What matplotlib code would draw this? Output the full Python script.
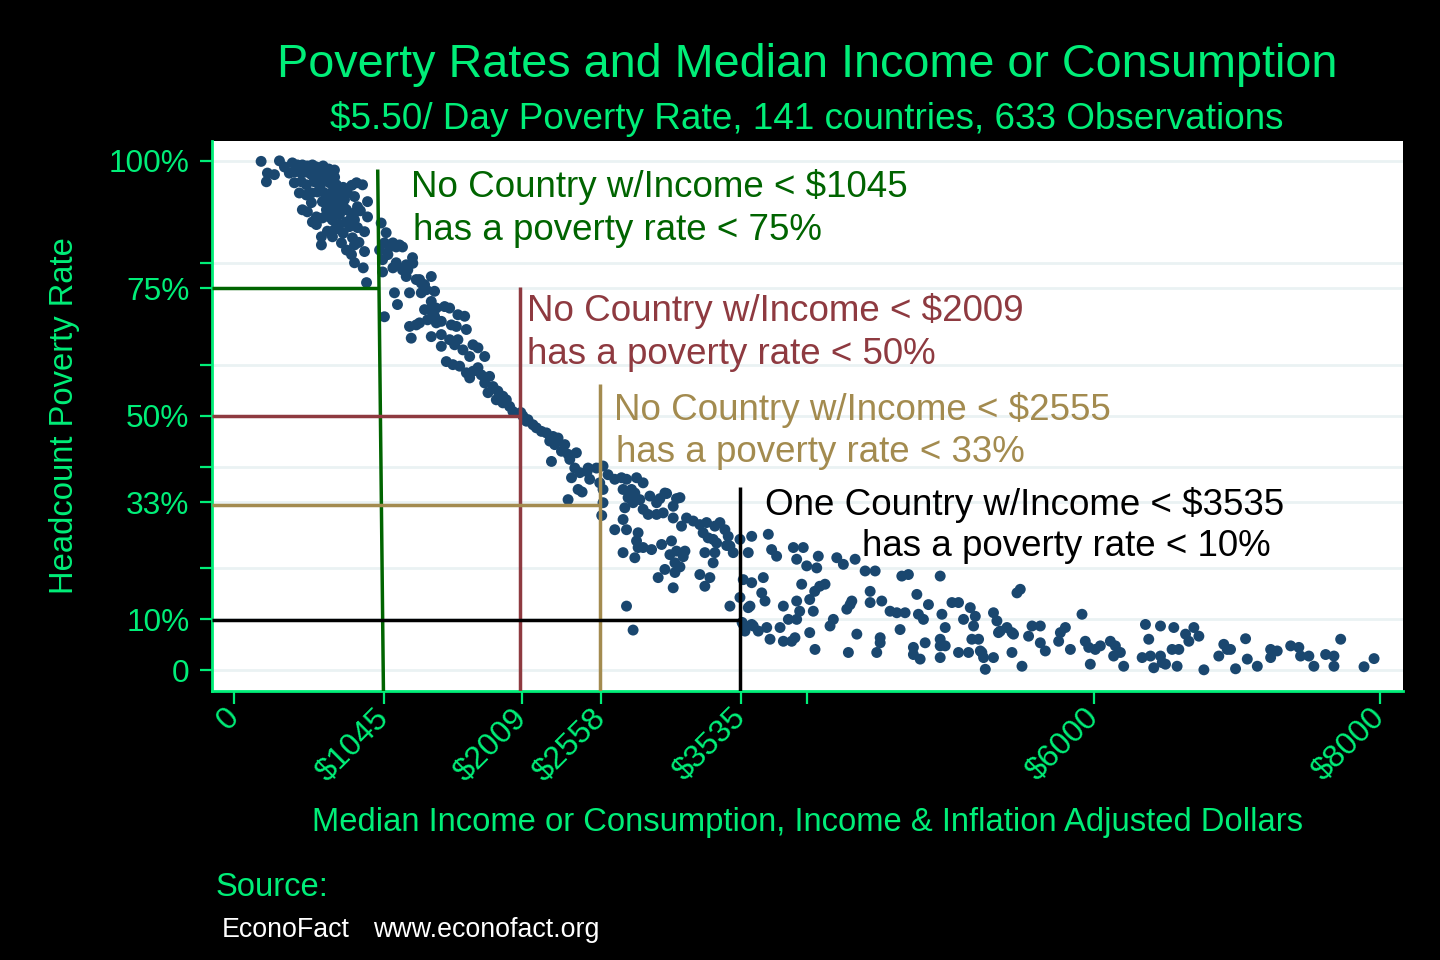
import matplotlib
matplotlib.use("Agg")
import matplotlib.pyplot as plt
import numpy as np

plt.rcParams['font.family'] = ['Liberation Sans', 'DejaVu Sans']

# ---------------- data (income $, poverty rate %) ----------------
obs_low = [
    (187, 99.9), (315, 100.0), (231, 97.6), (280, 97.3), (224, 95.9), (350, 98.8),
    (405, 99.6), (440, 99.2), (475, 99.2), (510, 99.0), (545, 99.2), (573, 98.8), (620, 99.0), (660, 98.4),
    (384, 97.6), (419, 97.8), (468, 97.6), (503, 97.8), (538, 97.3), (594, 97.6), (643, 97.8), (699, 98.2),
    (650, 96.7), (560, 96.5), (700, 96.8),
    (419, 95.7), (468, 95.9), (503, 95.3), (559, 95.9), (608, 95.7), (664, 95.7), (713, 95.3), (853, 95.7),
    (895, 95.3), (734, 93.7), (790, 93.7), (760, 94.8), (820, 95.2), (600, 94.5), (690, 94.2),
    (454, 93.7), (503, 93.3), (538, 93.7), (580, 93.9), (629, 93.7), (678, 92.9), (615, 92.0), (664, 91.8),
    (713, 92.0), (769, 92.4), (839, 93.0), (860, 91.0), (930, 92.0),
    (538, 91.8), (475, 90.4), (510, 90.0), (643, 90.4), (685, 90.0), (734, 89.4), (783, 90.4), (818, 89.0),
    (839, 89.8), (930, 89.0), (573, 89.0), (615, 88.8), (664, 89.0), (720, 90.8), (760, 91.2), (880, 90.2),
    (545, 88.0), (573, 87.5), (685, 88.4), (734, 87.5), (783, 88.0), (839, 88.4), (860, 86.9), (909, 86.1),
    (804, 87.1), (650, 86.2), (700, 86.5), (760, 85.8), (870, 84.0), (900, 79.0),
    (608, 85.1), (608, 83.5), (685, 85.1), (748, 83.9), (783, 82.5), (825, 84.9), (839, 83.5), (909, 82.2),
    (818, 81.6), (839, 80.0), (923, 76.1),
]

obs_lower_mid = [
    (1025, 87.8), (1060, 85.9), (1014, 82.5), (1035, 80.6), (1035, 78.2), (1083, 83.1), (1130, 83.1),
    (1174, 83.1), (1130, 80.0), (1200, 79.6), (1244, 81.0), (1174, 78.6), (1200, 77.3), (1118, 74.1),
    (1139, 71.8), (1048, 69.4), (1223, 74.1), (1293, 76.7), (1328, 75.7), (1375, 77.3), (1305, 74.1),
    (1340, 74.7), (1328, 70.8), (1375, 72.4), (1384, 70.2), (1223, 67.5), (1293, 68.2), (1349, 68.8),
    (1410, 68.2), (1048, 83.9), (1107, 83.9), (1153, 83.5), (1072, 81.6), (1107, 79.0), (1211, 78.6),
    (1246, 79.9), (1270, 76.7), (1305, 76.0), (1398, 74.4), (1363, 70.8), (1410, 71.1), (1468, 71.4),
    (1503, 71.1), (1561, 69.8), (1608, 69.5), (1398, 69.5), (1445, 68.5), (1270, 67.8), (1235, 65.2),
    (1375, 65.5), (1445, 65.9), (1515, 67.8), (1550, 67.5), (1620, 66.9), (1561, 64.9), (1503, 64.9),
    (1445, 63.6), (1538, 63.9), (1596, 62.9), (1666, 63.9), (1701, 63.3), (1643, 61.6), (1748, 61.6),
    (1480, 60.6), (1526, 60.0), (1573, 59.7), (1620, 58.4), (1666, 58.7), (1701, 59.4), (1643, 57.4),
    (1724, 58.0), (1748, 56.4), (1782, 57.7), (1806, 55.7), (1840, 54.8), (1771, 54.5), (1829, 53.1),
    (1875, 53.8), (1875, 52.5), (1922, 51.8), (1945, 50.8), (2015, 49.9), (2039, 48.9), (2085, 48.2),
    (2109, 47.6), (1899, 53.1), (2000, 50.6), (2050, 49.2),
]

obs_mid = [
    (2144, 46.9), (2179, 46.6), (2225, 45.9), (2260, 45.6), (2202, 45.0), (2237, 44.3), (2307, 44.3),
    (2284, 43.0), (2330, 42.4), (2388, 42.7), (2214, 41.0), (2342, 41.4), (2377, 39.7), (2354, 37.8),
    (2412, 38.8), (2470, 39.7), (2481, 37.5), (2400, 35.5), (2330, 33.5), (2528, 39.7), (2574, 40.1),
    (2609, 38.4), (2551, 36.8), (2574, 35.5), (2574, 32.9), (2565, 30.4), (2463, 39.0), (2428, 35.0),
    (2656, 37.5), (2703, 37.8), (2738, 37.5), (2808, 37.8), (2854, 36.8), (2714, 35.5), (2773, 35.5),
    (2796, 34.8), (2749, 33.9), (2784, 32.9), (2831, 33.5), (2901, 34.2), (2948, 32.9), (3006, 34.8),
    (3064, 32.2), (3111, 33.9), (2726, 31.9), (2854, 31.6), (2889, 30.6), (2948, 30.6), (2994, 30.9),
    (3064, 29.9), (3157, 29.9), (3204, 29.3), (3250, 28.6), (3297, 29.0), (3355, 28.3), (3390, 29.0),
    (3425, 27.6), (3448, 26.3), (3273, 27.0), (3308, 26.0), (3367, 25.0), (3460, 24.4), (3285, 23.1),
    (3355, 23.1), (3483, 23.1), (3343, 21.1), (2656, 27.6), (2738, 27.6), (2714, 29.6), (2819, 27.0),
    (2808, 25.4), (2819, 24.1), (2854, 24.1), (2913, 23.7), (2983, 24.7), (3052, 25.4), (3087, 23.4),
    (3146, 23.4), (3041, 22.7), (3076, 21.1), (3006, 19.8), (3076, 19.2), (2959, 18.2), (3064, 16.2),
    (3122, 28.3), (3250, 18.8), (3320, 18.2), (3285, 16.5), (2738, 12.6), (2784, 7.9), (3460, 12.6),
    (3530, 14.3), (3545, 9.4), (3623, 8.7), (3553, 17.8), (3612, 17.2), (3588, 12.3), (3588, 23.1),
    (3612, 26.3), (3530, 25.7), (2714, 23.1), (2796, 22.1), (2971, 33.7), (3018, 34.7), (3087, 33.7),
    (3343, 25.7), (3437, 24.5), (3111, 20.3), (3134, 22.3),
]

obs_upper_mid = [
    (3728, 26.7), (3751, 23.7), (3786, 22.4), (3903, 24.1), (3972, 24.1), (3926, 21.8), (3996, 20.5),
    (4066, 20.1), (4077, 22.4), (4206, 22.1), (4252, 20.8), (4334, 21.8), (4404, 19.5), (4474, 19.5),
    (4660, 18.5), (4706, 18.8), (4928, 18.5), (3693, 18.2), (3682, 15.2), (3705, 13.6), (3600, 12.6),
    (3833, 12.6), (3926, 13.6), (4017, 13.9), (4042, 11.6), (3947, 11.6), (3926, 10.0), (3868, 10.0),
    (4087, 16.5), (4124, 16.9), (4052, 15.5), (3961, 16.9), (4439, 15.5), (4439, 13.3), (4520, 13.6),
    (4765, 14.9), (4846, 12.9), (5010, 13.3), (5056, 13.3), (5138, 12.3), (4299, 12.9), (4311, 13.6),
    (4276, 12.0), (4578, 11.6), (4625, 11.3), (4683, 11.3), (4776, 11.0), (4811, 10.0), (4940, 11.0),
    (5173, 10.6), (4182, 10.0), (4159, 8.7), (4648, 8.0), (4963, 8.4), (5091, 10.0), (5161, 8.7),
    (3553, 9.0), (3565, 7.7), (3612, 9.0), (3658, 7.7), (3717, 8.4), (3740, 6.1), (3810, 8.4), (3833, 5.7),
    (3891, 5.7), (3914, 6.4), (4017, 7.4), (4054, 4.1), (4287, 3.5), (4346, 7.1), (4509, 6.4), (4509, 5.4),
    (4485, 3.5), (4741, 4.5), (4741, 3.1), (4788, 2.2), (4823, 5.4), (4928, 4.8), (4963, 4.8), (4928, 2.5),
    (5056, 3.5), (5126, 3.5), (5149, 6.1), (5196, 6.1), (5208, 3.8), (5231, 2.5), (5243, 0.2), (5300, 2.5),
    (5300, 11.3), (5324, 9.7), (5335, 7.4), (4928, 6.1),
]

obs_high = [
    (5464, 15.2), (5487, 15.9), (5347, 7.7), (5394, 8.4), (5429, 7.4), (5440, 7.1), (5219, 3.5),
    (5429, 3.5), (5499, 0.8), (5545, 6.7), (5569, 8.7), (5627, 8.7), (5627, 5.4), (5662, 3.8), (5767, 7.4),
    (5802, 8.4), (5755, 5.7), (5837, 4.1), (5918, 11.0), (5941, 5.7), (5965, 4.5), (6011, 4.1), (5976, 1.2),
    (6046, 4.8), (6116, 5.7), (6151, 4.8), (6186, 3.5), (6139, 2.8), (6209, 0.8), (6361, 9.0), (6384, 6.1),
    (6338, 2.5), (6396, 2.8), (6466, 8.7), (6466, 2.8), (6478, 1.5), (6419, 0.5), (6501, 1.2), (6559, 8.4),
    (6547, 4.1), (6594, 4.1), (6582, 0.8), (6641, 7.1), (6664, 5.7), (6699, 8.4), (6734, 6.7), (6769, 0.1),
    (6873, 2.8), (6908, 5.1), (6932, 4.1), (6955, 4.1), (6990, 0.3), (7060, 6.2), (7072, 2.2), (7142, 0.8),
    (7235, 4.1), (7281, 3.8), (7235, 2.5), (7375, 4.8), (7432, 4.5), (7444, 2.8), (7502, 2.8), (7537, 0.8),
    (7619, 3.1), (7677, 2.8), (7677, 0.8), (7724, 6.1), (7887, 0.7), (7957, 2.3),
]

x_ticks = [0, 1045, 2009, 2558, 3535, 4000, 6000, 8000]
x_tick_labels = ["0", "$1045", "$2009", "$2558", "$3535", "", "$6000", "$8000"]
y_major = [0, 10, 33, 50, 75, 100]
y_major_labels = ["0", "10%", "33%", "50%", "75%", "100%"]
y_minor = [20, 40, 60, 80]

# threshold guides: (income at top, income at bottom, top of vertical, horizontal level)
guide_green = (1001, 1041, 98.3, 75.0)
guide_red = (1991, 1991, 75.2, 50.0)
guide_gold = (2550, 2550, 56.2, 32.5)
guide_black = (3530, 3530, 36.0, 9.8)

title = "Poverty Rates and Median Income or Consumption"
subtitle = "$5.50/ Day Poverty Rate, 141 countries, 633 Observations"

# ---------------- styling ----------------
BG = "black"
LIME = "#00EE78"
NAVY = "#1A476F"
C_GREEN = "#006400"
C_RED = "#8E3A40"
C_GOLD = "#A38B4F"
GRID = "#EAF2F3"

XMIN, XMAX = -158, 8157
YMIN, YMAX = -4.06, 103.9

fig = plt.figure(figsize=(14.4, 9.6), dpi=100, facecolor=BG)
ax = fig.add_axes([211.7 / 1440, 1 - 691 / 960, (1402.7 - 211.7) / 1440, (691 - 141) / 960])
ax.set_facecolor("white")
ax.set_xlim(XMIN, XMAX)
ax.set_ylim(YMIN, YMAX)

# gridlines
for g in y_major + y_minor:
    ax.axhline(g, color=GRID, lw=2.0, zorder=0.5)

pts = obs_low + obs_lower_mid + obs_mid + obs_upper_mid + obs_high
xs = np.array([p[0] for p in pts])
ys = np.array([p[1] for p in pts])
ax.scatter(xs, ys, s=62, color=NAVY, edgecolors="none", zorder=2)

def guide(g, color):
    xt, xb, ytop, yh = g
    ax.plot([xt, xb], [ytop, YMIN], color=color, lw=2.5, zorder=3, solid_capstyle="butt")
    ax.plot([XMIN, xt], [yh, yh], color=color, lw=2.5, zorder=3, solid_capstyle="butt")

guide(guide_green, C_GREEN)
guide(guide_red, C_RED)
guide(guide_gold, C_GOLD)
guide(guide_black, "black")

FS_ANN = 26.5
ax.text(1234, 94.8, "No Country w/Income < $1045", color=C_GREEN, fontsize=FS_ANN, ha="left", va="center", zorder=4)
ax.text(1248, 86.3, "has a poverty rate < 75%", color=C_GREEN, fontsize=FS_ANN, ha="left", va="center", zorder=4)
ax.text(2043, 70.6, "No Country w/Income < $2009", color=C_RED, fontsize=FS_ANN, ha="left", va="center", zorder=4)
ax.text(2043, 62.0, "has a poverty rate < 50%", color=C_RED, fontsize=FS_ANN, ha="left", va="center", zorder=4)
ax.text(2651, 51.0, "No Country w/Income < $2555", color=C_GOLD, fontsize=FS_ANN, ha="left", va="center", zorder=4)
ax.text(2665, 42.8, "has a poverty rate < 33%", color=C_GOLD, fontsize=FS_ANN, ha="left", va="center", zorder=4)
ax.text(3705, 32.5, "One Country w/Income < $3535", color="black", fontsize=FS_ANN, ha="left", va="center", zorder=4)
ax.text(4382, 24.3, "has a poverty rate < 10%", color="black", fontsize=FS_ANN, ha="left", va="center", zorder=4)

# spines
for s in ["top", "right"]:
    ax.spines[s].set_visible(False)
for s in ["left", "bottom"]:
    ax.spines[s].set_color(LIME)
    ax.spines[s].set_linewidth(2.0)

ax.set_xticks(x_ticks)
ax.set_xticklabels(x_tick_labels)
ax.set_yticks(y_major)
ax.set_yticklabels(y_major_labels)
ax.set_yticks(y_minor, minor=True)
ax.tick_params(axis="both", which="both", colors=LIME, length=9, width=1.6, direction="out")
ax.tick_params(axis="y", which="major", labelsize=22.8, pad=7)
ax.tick_params(axis="x", which="major", labelsize=23, pad=7)
for lab in ax.get_xticklabels():
    lab.set_rotation(45)
    lab.set_ha("right")
    lab.set_va("center")
    lab.set_rotation_mode("anchor")

fig.text(807 / 1440, 1 - 65 / 960, title, color=LIME, fontsize=33.7, ha="center", va="center")
fig.text(807 / 1440, 1 - 119 / 960, subtitle, color=LIME, fontsize=26.6, ha="center", va="center")
fig.text(65 / 1440, 1 - 416 / 960, "Headcount Poverty Rate", color=LIME, fontsize=23.6,
         rotation=90, ha="center", va="center")
fig.text(807 / 1440, 1 - 822 / 960, "Median Income or Consumption, Income & Inflation Adjusted Dollars",
         color=LIME, fontsize=23.6, ha="center", va="center")
fig.text(216 / 1440, 1 - 887 / 960, "Source:", color=LIME, fontsize=23.6, ha="left", va="center")
fig.text(222 / 1440, 1 - 930 / 960, "EconoFact", color="white", fontsize=19.3, ha="left", va="center")
fig.text(373 / 1440, 1 - 930 / 960, "www.econofact.org", color="white", fontsize=19.3, ha="left", va="center")

fig.savefig("out.png", dpi=100, facecolor=BG)
